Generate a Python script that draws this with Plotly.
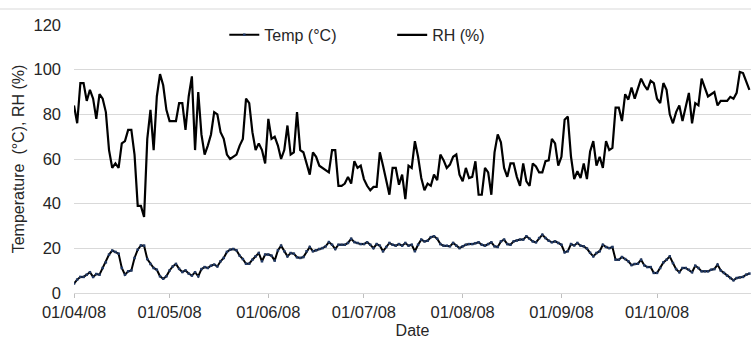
import pandas as pd
import plotly.graph_objects as go

start_date = "2008-04-01"

rh = [
    84, 76, 94, 94, 86, 91, 87, 78, 89, 87, 81, 64, 56, 58, 56, 67, 68, 73, 73, 62,
    39, 39, 34, 69, 82, 64, 88, 98, 93, 82, 77, 77, 77, 85, 85,
    73, 88, 97, 64, 90, 71, 62, 66, 71, 81, 80, 72, 69, 62, 60, 61, 62, 66, 69, 87,
    85, 72, 64, 67, 64, 58, 78, 69, 70, 66, 60, 64, 75, 62, 63,
    81, 64, 63, 58, 53, 63, 61, 57, 56, 55, 54, 64, 64, 48, 48, 49, 52, 49, 59, 56,
    57, 51, 48, 46, 47.5, 47.5, 63, 57, 51, 44, 56, 56, 48.5, 53, 42,
    57, 56, 68, 61, 51.5, 46, 49, 48, 53, 50.5, 62, 59.5, 56, 57.5, 61, 62, 53, 50,
    56, 51.5, 52, 59, 44, 44, 56, 54, 44, 63, 71, 67.5, 56, 52, 58, 58, 52, 48,
    58, 50, 48, 58, 56.7, 54, 54, 59, 59.4, 69, 67, 57, 61, 77.6, 79, 61, 51, 54.5,
    51.5, 58, 51, 63.4, 68, 57, 61, 56, 68, 64, 65, 83, 83, 77, 89, 86.6, 92,
    87, 92, 96, 93, 91, 95, 94, 87, 85, 94, 91, 80, 76, 81, 84, 77, 84, 89.6, 76,
    85, 84, 96, 92, 88, 89, 90, 84, 86, 86, 86, 87.8, 87, 89.6, 99, 98.5, 95, 91,
]

temp = [
    4.2, 6, 7.2, 7.2, 8.2, 9.3, 7.2, 8.5, 8.2, 11.2, 13.7, 17.2, 19, 18.4, 17.6, 11.2,
    8.2, 9.7, 10.1, 15.7, 19.4, 21.3, 21.2, 15.2, 13, 11.2, 10.4, 7.5, 6.4, 7.5, 10.1,
    11.9, 13, 10.8, 9.4,
    10.1, 8.7, 7.8, 9.3, 7.5, 10.7, 11.6, 11.2, 12.2, 12.7, 11.9, 14.2, 15.7, 18.4,
    19.4, 19.7, 19.1, 16.7, 15.2, 13.1, 13.1, 14.9, 16.4, 17.9, 14.2, 17.2, 17.2, 16.7,
    14.5, 19.1, 21.2, 18.7, 16.4, 17.9, 17.6,
    16, 15.7, 16.1, 18.7, 20.6, 18.7, 19.1, 19.7, 20.1, 20.9, 22.8, 21.6, 19.7, 21.6,
    21.6, 21.6, 22.4, 24.3, 22.8, 22.4, 21.9, 21.9, 22.7, 21.6, 20.1, 21.9, 21.2, 18.7,
    20.6, 22.4, 21.6, 21.2, 21.9, 21.2, 22.4,
    21.2, 21.6, 18.7, 21.6, 23.9, 23.1, 23.4, 25.0, 25.4, 24.3, 21.9, 21.2, 21.2, 20.9,
    22.4, 21.2, 20.1, 20.9, 21.6, 21.9, 21.9, 22.3, 22.7, 21.6, 21.2, 21.9, 22.7, 20.9,
    20.6, 23.1, 23.9, 21.9, 21.6, 23.1,
    23.5, 23.9, 23.9, 25.4, 24.3, 23.1, 22.7, 24.6, 26.1, 24.6, 23.4, 22.7, 23.1, 22.4,
    21.6, 18.2, 18.7, 21.9, 21.3, 22.4, 21.2, 20.9, 19.9, 18.0, 16.4, 17.9, 18.7, 21.6,
    20.6, 20.1, 20.6, 14.9, 14.9, 16.1, 15.2, 14.2, 12.5,
    13, 13.1, 14.9, 12.4, 11.6, 11.6, 9, 9, 11.2, 13.7, 14.9, 16.4, 13.4, 10.7, 9.3,
    11.2, 11.2, 10.4, 9.3, 12.2, 11.2, 9.7, 9.7, 9.7, 10.4, 10.7, 12.7, 10.1, 9, 7.8,
    6.7, 5.7, 6.7, 7, 7.2, 8.2, 8.7,
]

dates = pd.date_range(start_date, periods=len(rh), freq="D")

tick_dates = ["2008-04-01", "2008-05-01", "2008-06-01", "2008-07-01",
              "2008-08-01", "2008-09-01", "2008-10-01"]
tick_labels = ["01/04/08", "01/05/08", "01/06/08", "01/07/08",
               "01/08/08", "01/09/08", "01/10/08"]
y_ticks = [0, 20, 40, 60, 80, 100, 120]

FONT = "Liberation Sans, Arial, sans-serif"
TXT = "#262626"

fig = go.Figure()
fig.add_trace(go.Scatter(
    x=dates, y=temp, name="Temp (°C)", mode="lines+markers",
    line=dict(color="black", width=2),
    marker=dict(symbol="square", size=2.5, color="#203864"),
    legend="legend",
))
fig.add_trace(go.Scatter(
    x=dates, y=rh, name="RH (%)", mode="lines",
    line=dict(color="black", width=2.2),
    legend="legend2",
))

fig.update_layout(
    width=751, height=339,
    margin=dict(l=74, r=0, t=25, b=46),
    paper_bgcolor="white", plot_bgcolor="white",
    font=dict(family=FONT, size=16, color=TXT),
    showlegend=True,
    legend=dict(x=0.222, y=0.963, xanchor="left", yanchor="middle",
                orientation="h", font=dict(size=16, color=TXT),
                bgcolor="rgba(0,0,0,0)"),
    legend2=dict(x=0.47, y=0.963, xanchor="left", yanchor="middle",
                 orientation="h", font=dict(size=16, color=TXT),
                 bgcolor="rgba(0,0,0,0)"),
    xaxis=dict(
        range=["2008-04-01", "2008-10-30 12:00"],
        tickvals=tick_dates, ticktext=tick_labels,
        showgrid=False, showline=True, linecolor="#D9D9D9", linewidth=1,
        ticks="outside", ticklen=4, tickcolor="#BFBFBF",
        tickfont=dict(size=16.5, color=TXT),
        title=dict(text="Date", font=dict(size=16, color=TXT), standoff=6),
        zeroline=False,
    ),
    yaxis=dict(
        range=[0, 120], tickvals=y_ticks,
        showgrid=True, gridcolor="#D9D9D9", gridwidth=1,
        showline=False, zeroline=False, ticks="",
        ticklabelstandoff=12,
        tickfont=dict(size=16.5, color=TXT),
        title=dict(text="Temperature  (°C), RH (%)", font=dict(size=16, color=TXT), standoff=4),
    ),
)

fig.add_shape(type="line", xref="paper", yref="paper",
              x0=-74 / 677, x1=1, y0=1 + 16 / 268, y1=1 + 16 / 268,
              line=dict(color="#D9D9D9", width=1))

fig.write_html("out.html")
